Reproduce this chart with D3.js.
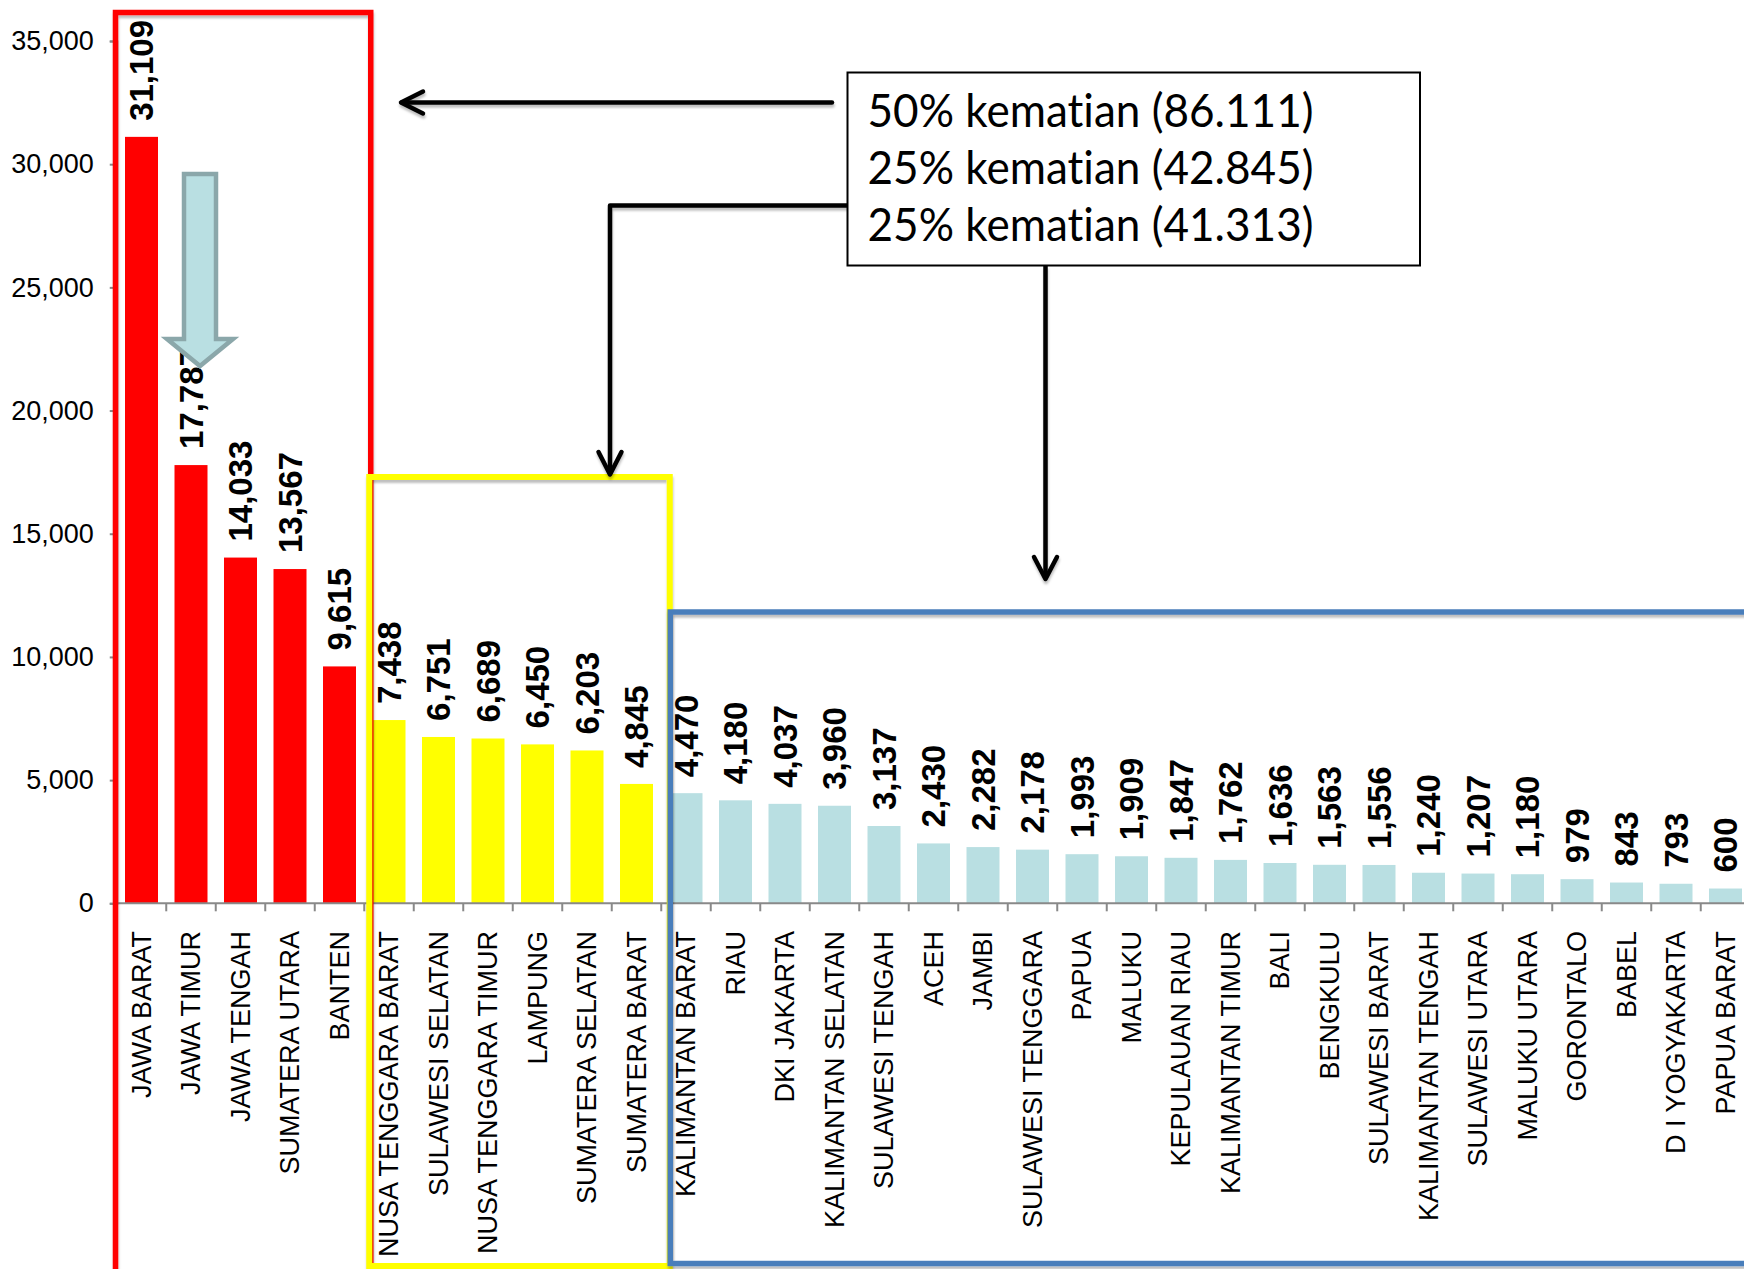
<!DOCTYPE html>
<html>
<head>
<meta charset="utf-8">
<script src="https://cdn.jsdelivr.net/npm/d3@7"></script>
<style>
  html, body { margin: 0; padding: 0; background: #fff; }
  svg { display: block; }
</style>
</head>
<body>
<div id="chart"></div>
<script>
// Deaths per province, sorted from highest to lowest
const provinces = [
  "JAWA BARAT", "JAWA TIMUR", "JAWA TENGAH", "SUMATERA UTARA", "BANTEN",
  "NUSA TENGGARA BARAT", "SULAWESI SELATAN", "NUSA TENGGARA TIMUR", "LAMPUNG",
  "SUMATERA SELATAN", "SUMATERA BARAT", "KALIMANTAN BARAT", "RIAU", "DKI JAKARTA",
  "KALIMANTAN SELATAN", "SULAWESI TENGAH", "ACEH", "JAMBI", "SULAWESI TENGGARA",
  "PAPUA", "MALUKU", "KEPULAUAN RIAU", "KALIMANTAN TIMUR", "BALI", "BENGKULU",
  "SULAWESI BARAT", "KALIMANTAN TENGAH", "SULAWESI UTARA", "MALUKU UTARA",
  "GORONTALO", "BABEL", "D I YOGYAKARTA", "PAPUA BARAT"
];
const deaths = [
  31109, 17787, 14033, 13567, 9615,
  7438, 6751, 6689, 6450, 6203, 4845,
  4470, 4180, 4037, 3960, 3137, 2430, 2282, 2178, 1993, 1909, 1847,
  1762, 1636, 1563, 1556, 1240, 1207, 1180, 979, 843, 793, 600
];
// Index where each group of provinces begins, and its bar colour
const groupStarts = [0, 5, 11];
const groupColors = ["#ff0000", "#ffff00", "#b9dfe2"];
const yTicks = [0, 5000, 10000, 15000, 20000, 25000, 30000, 35000];
const summaryLines = [
  "50% kematian (86.111)",
  "25% kematian (42.845)",
  "25% kematian (41.313)"
];

const W = 1744, H = 1269;
const svg = d3.select("#chart").append("svg")
  .attr("width", W).attr("height", H)
  .attr("viewBox", `0 0 ${W} ${H}`);

const defs = svg.append("defs");
defs.append("filter")
  .attr("id", "shadow")
  .attr("filterUnits", "userSpaceOnUse")
  .attr("x", 0).attr("y", 0).attr("width", W).attr("height", H)
  .append("feDropShadow")
  .attr("dx", 0.5).attr("dy", 3).attr("stdDeviation", 1.3)
  .attr("flood-color", "#000").attr("flood-opacity", 0.25);

const x = d3.scaleBand()
  .domain(provinces)
  .range([116.75, 1750.25])
  .paddingInner(1 / 3)
  .paddingOuter(1 / 6);
const y = d3.scaleLinear().domain([0, 35000]).range([903.3, 41]);

const groupOf = i => d3.bisectRight(groupStarts, i) - 1;
const edge = i => x.range()[0] + i * x.step();

const font = "'Liberation Sans', Arial, sans-serif";

// Value axis
const yAxis = svg.append("g")
  .attr("transform", `translate(${x.range()[0]},0)`)
  .call(d3.axisLeft(y).tickValues(yTicks).tickFormat(d3.format(",")).tickSize(7).tickPadding(16));
yAxis.select(".domain").attr("stroke", "#898989").attr("stroke-width", 2);
yAxis.selectAll(".tick line").attr("stroke", "#898989").attr("stroke-width", 2);
yAxis.selectAll(".tick text")
  .attr("font-family", font).attr("font-size", 27).attr("fill", "#000");

// Bars
const bars = provinces.map((p, i) => ({ p, v: deaths[i], g: groupOf(i) }));
svg.append("g").selectAll("rect").data(bars).join("rect")
  .attr("x", d => x(d.p))
  .attr("y", d => y(d.v))
  .attr("width", x.bandwidth())
  .attr("height", d => y(0) - y(d.v))
  .attr("fill", d => groupColors[d.g]);

// Category axis with ticks between categories
const xAxisG = svg.append("g");
xAxisG.append("line")
  .attr("x1", x.range()[0]).attr("x2", x.range()[1])
  .attr("y1", y(0)).attr("y2", y(0))
  .attr("stroke", "#898989").attr("stroke-width", 2);
xAxisG.selectAll("line.tk").data(d3.range(provinces.length + 1)).join("line")
  .attr("class", "tk")
  .attr("x1", i => edge(i)).attr("x2", i => edge(i))
  .attr("y1", y(0)).attr("y2", y(0) + 8)
  .attr("stroke", "#898989").attr("stroke-width", 2);

const catSize = 27;
svg.append("g").selectAll("text").data(provinces).join("text")
  .attr("transform", d => `translate(${x(d) + x.bandwidth() / 2 + catSize * 0.35},931) rotate(-90)`)
  .attr("text-anchor", "end")
  .attr("font-family", font).attr("font-size", catSize).attr("fill", "#000")
  .text(d => d);

// Value labels above bars
const valSize = 33;
svg.append("g").selectAll("text").data(bars).join("text")
  .attr("transform", d => `translate(${x(d.p) + x.bandwidth() / 2 + valSize * 0.36},${y(d.v) - 16}) rotate(-90)`)
  .attr("text-anchor", "start")
  .attr("font-family", font).attr("font-size", valSize).attr("font-weight", "bold").attr("fill", "#000")
  .text(d => d3.format(",")(d.v));

// Group outlines
const boxes = [
  { x0: edge(0) - 1.25, x1: edge(5) + 6.5, y0: 12.5, y1: 1300, color: "#ff0000", w: 5.5 },
  { x0: edge(5) + 5, x1: edge(11) + 8.5, y0: 477, y1: 1266, color: "#ffff00", w: 6 },
  { x0: edge(11) + 9, x1: 1760, y0: 612, y1: 1263.5, color: "#4a7ebb", w: 5.5 }
];
svg.append("g").selectAll("rect").data(boxes).join("rect")
  .attr("x", d => d.x0).attr("y", d => d.y0)
  .attr("width", d => d.x1 - d.x0).attr("height", d => d.y1 - d.y0)
  .attr("fill", "none").attr("stroke", d => d.color).attr("stroke-width", d => d.w)
  .attr("filter", "url(#shadow)");

// Connectors from the summary box to each group
const conn = svg.append("g")
  .attr("fill", "none").attr("stroke", "#000").attr("stroke-width", 4.5)
  .attr("stroke-linecap", "round").attr("stroke-linejoin", "round")
  .attr("filter", "url(#shadow)");
const line = d3.line();
conn.append("path").attr("d", line([[832, 102.5], [402, 102.5]]));
conn.append("path").attr("d", line([[423, 91.5], [401, 102.5], [423, 113.5]]));
conn.append("path").attr("stroke-linecap", "butt").attr("d", line([[848, 205.5], [610, 205.5], [610, 474]]));
conn.append("path").attr("d", line([[598.5, 452], [610, 474.5], [621.5, 452]]));
conn.append("path").attr("stroke-linecap", "butt").attr("d", line([[1045.5, 266], [1045.5, 578]]));
conn.append("path").attr("d", line([[1034, 557], [1045.5, 579], [1057, 557]]));

// Summary box
const box = svg.append("g");
box.append("rect")
  .attr("x", 847.5).attr("y", 72.5).attr("width", 572.5).attr("height", 193)
  .attr("fill", "#fff").attr("stroke", "#000").attr("stroke-width", 2);
box.selectAll("text").data(summaryLines).join("text")
  .attr("x", 867.5)
  .attr("y", (d, i) => 126.5 + i * 57)
  .attr("font-family", "Lato, 'Open Sans', sans-serif")
  .attr("font-size", 47)
  .attr("fill", "#000")
  .style("font-variant-ligatures", "none")
  .attr("textLength", 446)
  .attr("lengthAdjust", "spacingAndGlyphs")
  .text(d => d);

// Downward block arrow over the top group
svg.append("path")
  .attr("d", line([[184, 174], [216, 174], [216, 339], [233, 339], [200, 366], [167, 339], [184, 339]]) + "Z")
  .attr("fill", "#b9dfe2").attr("stroke", "#8ba7aa").attr("stroke-width", 4.5)
  .attr("stroke-linejoin", "miter");
</script>
</body>
</html>
